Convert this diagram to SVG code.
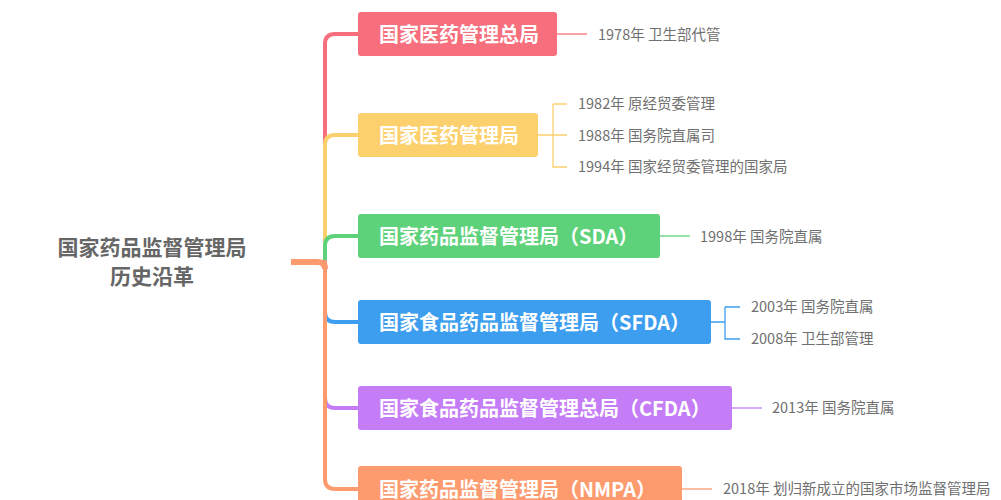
<svg xmlns="http://www.w3.org/2000/svg" width="1001" height="500" viewBox="0 0 1001 500">
<style>
.n{font-family:"Noto Sans CJK SC","Liberation Sans",sans-serif;font-weight:bold;font-size:20px;fill:#fff}
.l{font-family:"Noto Sans CJK SC","Liberation Sans",sans-serif;font-size:14.5px;fill:#707070}
.r{font-family:"Noto Sans CJK SC","Liberation Sans",sans-serif;font-weight:bold;font-size:21px;fill:#666}
.b{fill:none;stroke-width:4;stroke-linecap:round}
.t{fill:none;stroke-width:1.3}
</style>
<rect width="1001" height="500" fill="#fff"/>
<g id="root"><text class="r" x="152" y="255" text-anchor="middle">国家药品监督管理局</text><text class="r" x="152" y="284" text-anchor="middle">历史沿革</text></g>
<g id="connectors">
<path class="b" stroke="#f76e7c" d="M325 262 V44 Q325 34 335 34 H358"/>
<path class="b" stroke="#fdd06e" d="M325 262 V145 Q325 135 335 135 H358"/>
<path class="b" stroke="#5ed27a" d="M325 262 V246 Q325 236 335 236 H358"/>
<path class="b" stroke="#3d9ef0" d="M325 262 V312 Q325 322 335 322 H358"/>
<path class="b" stroke="#c57cf7" d="M325 262 V398 Q325 408 335 408 H358"/>
<path class="b" stroke="#fd9a6e" d="M325 262 V479 Q325 489 335 489 H358"/>
<path d="M291 262 H318 Q325 262 325 269" fill="none" stroke="#fd9a6e" stroke-width="6"/>
<path class="t" stroke="#f76e7c" d="M557 34 H587"/>
<path class="t" stroke="#fdd06e" d="M538 135 H553 M553 104 H567 M553 104 V167 H567 M553 135 H567"/>
<path class="t" stroke="#5ed27a" d="M660 236 H690"/>
<path class="t" stroke="#3d9ef0" d="M711 322 H725 M725 307 H740 M725 307 V339 H740"/>
<path class="t" stroke="#c57cf7" d="M732 408 H762"/>
<path class="t" stroke="#fd9a6e" d="M682 489 H712"/>
</g>
<g id="n1"><rect x="358" y="12" width="199" height="44" rx="3" fill="#f76e7c"/><text class="n" x="379" y="42">国家医药管理总局</text><text class="l" x="598" y="40">1978年 卫生部代管</text></g>
<g id="n2"><rect x="358" y="113" width="180" height="44" rx="3" fill="#fdd06e"/><text class="n" x="379" y="143">国家医药管理局</text><text class="l" x="578" y="109">1982年 原经贸委管理</text><text class="l" x="578" y="141">1988年 国务院直属司</text><text class="l" x="578" y="172">1994年 国家经贸委管理的国家局</text></g>
<g id="n3"><rect x="358" y="214" width="302" height="44" rx="3" fill="#5ed27a"/><text class="n" x="379" y="244">国家药品监督管理局（SDA）</text><text class="l" x="700" y="242">1998年 国务院直属</text></g>
<g id="n4"><rect x="358" y="300" width="353" height="44" rx="3" fill="#3d9ef0"/><text class="n" x="379" y="330">国家食品药品监督管理局（SFDA）</text><text class="l" x="751" y="312">2003年 国务院直属</text><text class="l" x="751" y="344">2008年 卫生部管理</text></g>
<g id="n5"><rect x="358" y="386" width="374" height="44" rx="3" fill="#c57cf7"/><text class="n" x="379" y="416">国家食品药品监督管理总局（CFDA）</text><text class="l" x="772" y="413">2013年 国务院直属</text></g>
<g id="n6"><rect x="358" y="466" width="324" height="44" rx="3" fill="#fd9a6e"/><text class="n" x="379" y="497">国家药品监督管理局（NMPA）</text><text class="l" x="723" y="494">2018年 划归新成立的国家市场监督管理局</text></g>
</svg>
